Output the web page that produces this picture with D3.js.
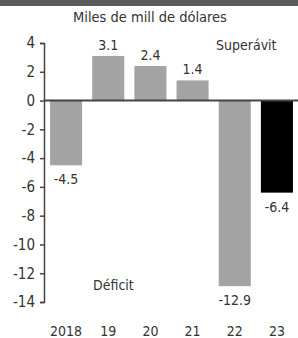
<!DOCTYPE html>
<html><head><meta charset="utf-8">
<script src="https://cdn.jsdelivr.net/npm/d3@7/dist/d3.min.js"></script>
<style>
body{margin:0;background:#fff;}
text{font-family:"DejaVu Sans Condensed","Liberation Sans Narrow","Roboto",sans-serif;fill:#333;}
</style></head>
<body><svg id="c" width="298" height="338"></svg>
<script>
const categories = ["2018","19","20","21","22","23"];
const values = [-4.5, 3.1, 2.4, 1.4, -12.9, -6.4];
const valueLabels = ["-4.5","3.1","2.4","1.4","-12.9","-6.4"];
const yTicks = [4,2,0,-2,-4,-6,-8,-10,-12,-14];
const highlight = "23";

const svg = d3.select("#c");
const W = 298, H = 338;
// top banner
svg.append("rect").attr("x",0).attr("y",0).attr("width",W).attr("height",6).attr("fill","#5a5a5a");

svg.append("text").attr("x",150).attr("y",22).attr("text-anchor","middle")
  .attr("font-size",14.5).text("Miles de mill de dólares");

const y = d3.scaleLinear().domain([-14,4]).range([302,43]);
const x = d3.scaleBand().domain(categories).range([45,298]).paddingInner(0.24).paddingOuter(0.12);

const ax = svg.append("g").attr("transform","translate(44,0)")
  .call(d3.axisLeft(y).tickValues(yTicks).tickSize(4).tickPadding(5)
    .tickFormat(d=>d3.format("d")(d).replace("−","-")));
ax.select(".domain").attr("stroke","#444").attr("stroke-width",1.5);
ax.selectAll(".tick line").attr("stroke","#444").attr("stroke-width",1.5);
ax.selectAll(".tick text").attr("font-size",15).attr("fill","#333").attr("font-family",null);

svg.selectAll("rect.bar").data(values).join("rect").attr("class","bar")
  .attr("x",(d,i)=>x(categories[i]))
  .attr("width",x.bandwidth())
  .attr("y",d=>y(Math.max(0,d)))
  .attr("height",d=>Math.abs(y(d)-y(0)))
  .attr("fill",(d,i)=>categories[i]===highlight?"#000":"#a3a3a3");

svg.append("line").attr("x1",44).attr("x2",W).attr("y1",y(0)).attr("y2",y(0))
  .attr("stroke","#444").attr("stroke-width",2);

svg.selectAll("text.vl").data(values).join("text").attr("class","vl")
  .attr("x",(d,i)=>x(categories[i])+x.bandwidth()/2)
  .attr("y",d=>d>=0?y(d)-6:y(d)+19)
  .attr("text-anchor","middle").attr("font-size",14)
  .text((d,i)=>valueLabels[i]);

svg.selectAll("text.cat").data(categories).join("text").attr("class","cat")
  .attr("x",d=>x(d)+x.bandwidth()/2).attr("y",336)
  .attr("text-anchor","middle").attr("font-size",14).text(d=>d);

svg.append("text").attr("x",216).attr("y",50).attr("font-size",14).text("Superávit");
svg.append("text").attr("x",93).attr("y",290).attr("font-size",14).text("Déficit");
</script></body></html>
